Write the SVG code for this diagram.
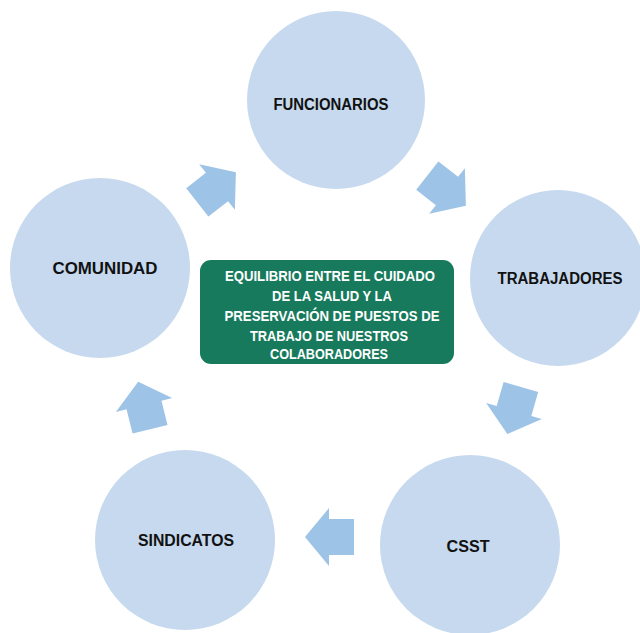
<svg xmlns="http://www.w3.org/2000/svg" width="640" height="633" viewBox="0 0 640 633">
<defs>
<style>
.c{fill:#c6d9ee}
.a{fill:#9dc3e6}
.l{font-family:"Liberation Sans",Arial,sans-serif;font-weight:bold;font-size:16px;fill:#111;text-anchor:middle}
.t{font-family:"Liberation Sans",Arial,sans-serif;font-weight:bold;font-size:15px;fill:#fff;text-anchor:middle}
</style>
<polygon id="arr" points="-25,-18 0,-18 0,-29 24,0 0,29 0,18 -25,18"/>
</defs>
<rect width="640" height="633" fill="#fff"/>
<g id="connectors" class="a">
<use href="#arr" transform="translate(217,187) rotate(-38)"/>
<use href="#arr" transform="translate(447,191) rotate(38)"/>
<use href="#arr" transform="translate(514,411) rotate(106)"/>
<use href="#arr" transform="translate(329,537) rotate(180)"/>
<use href="#arr" transform="translate(144,405) rotate(-104)"/>
</g>
<g id="funcionarios"><circle class="c" cx="336" cy="100" r="89"/><text class="l" x="331" y="110" textLength="115" lengthAdjust="spacingAndGlyphs">FUNCIONARIOS</text></g>
<g id="trabajadores"><circle class="c" cx="558" cy="278" r="88"/><text class="l" x="560" y="284" textLength="125" lengthAdjust="spacingAndGlyphs">TRABAJADORES</text></g>
<g id="csst"><circle class="c" cx="470" cy="545" r="90"/><text class="l" x="468" y="552" textLength="43" lengthAdjust="spacingAndGlyphs">CSST</text></g>
<g id="sindicatos"><circle class="c" cx="185" cy="540" r="90"/><text class="l" x="186" y="546" textLength="96" lengthAdjust="spacingAndGlyphs">SINDICATOS</text></g>
<g id="comunidad"><circle class="c" cx="100" cy="268" r="90"/><text class="l" x="105" y="274" textLength="105" lengthAdjust="spacingAndGlyphs">COMUNIDAD</text></g>
<g id="centro">
<rect x="200" y="260" width="254" height="104" rx="11" fill="#187a5c"/>
<text class="t" x="330" y="281" textLength="210" lengthAdjust="spacingAndGlyphs">EQUILIBRIO ENTRE EL CUIDADO</text>
<text class="t" x="332" y="301" textLength="120" lengthAdjust="spacingAndGlyphs">DE LA SALUD Y LA</text>
<text class="t" x="332" y="321" textLength="215" lengthAdjust="spacingAndGlyphs">PRESERVACIÓN DE PUESTOS DE</text>
<text class="t" x="329" y="341" textLength="158" lengthAdjust="spacingAndGlyphs">TRABAJO DE NUESTROS</text>
<text class="t" x="329" y="359" textLength="118" lengthAdjust="spacingAndGlyphs">COLABORADORES</text>
</g>
</svg>
